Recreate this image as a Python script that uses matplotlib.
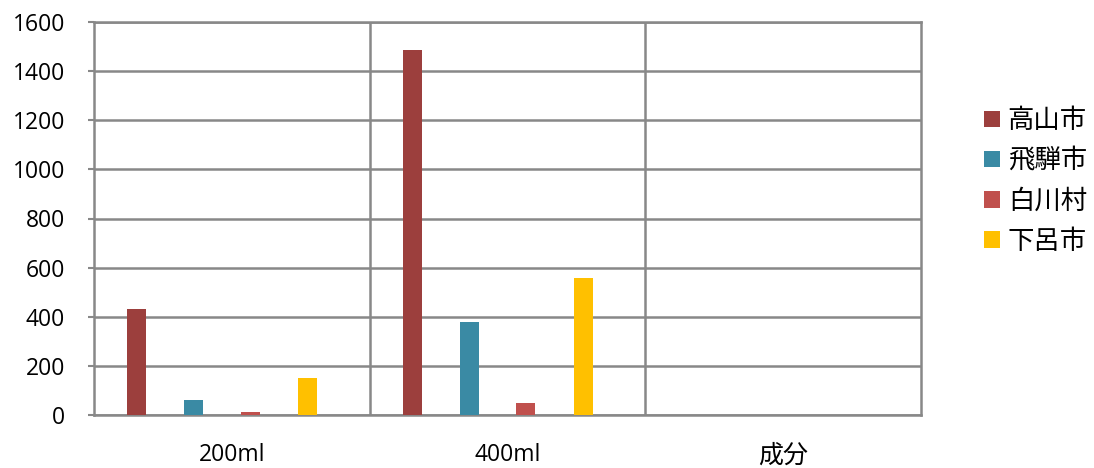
import numpy as np
import matplotlib
matplotlib.use("Agg")
import matplotlib.pyplot as plt

plt.rcParams['font.family'] = ['Open Sans', 'Noto Sans CJK JP', 'DejaVu Sans']

categories = ["200ml", "400ml", "成分"]
series_names = ["高山市", "飛騨市", "白川村", "下呂市"]
takayama = [431, 1486, 0]
hida = [61, 379, 0]
shirakawa = [12, 49, 0]
gero = [150, 558, 0]
colors = ["#9C3F3D", "#3A8AA4", "#C0504D", "#FFC000"]

values = [takayama, hida, shirakawa, gero]

fig = plt.figure(figsize=(10.94, 4.68), dpi=100)
ax = fig.add_axes([94 / 1094, 1 - 415 / 468, (921 - 94) / 1094, (415 - 22) / 468])

x = np.arange(len(categories))
width = 0.069
offsets = [-0.346, -0.139, 0.067, 0.274]

for vals, name, col, off in zip(values, series_names, colors, offsets):
    ax.bar(x + off, vals, width, color=col, label=name, zorder=3)

ax.set_xlim(-0.5, len(categories) - 0.5)
ax.set_ylim(0, 1600)
ax.set_yticks(np.arange(0, 1601, 200))
ax.yaxis.grid(True, color="#888888", linewidth=1.8, zorder=0)
for b in np.arange(0.5, len(categories) - 0.5, 1):
    ax.axvline(b, color="#888888", linewidth=1.8, zorder=0)

for s in ax.spines.values():
    s.set_color("#888888")
    s.set_linewidth(1.8)

ax.tick_params(axis="y", length=4, width=1.5, color="#888888", labelsize=16.5, pad=17)
ax.tick_params(axis="x", length=0, labelsize=16.5, pad=20)
ax.set_xticks(x)
ax.set_xticklabels(categories)
ax.get_xticklabels()[2].set_fontsize(18)
ax.get_xticklabels()[2].set_fontfamily(['Noto Sans CJK JP'])

leg = fig.legend(loc="center left", bbox_to_anchor=(984 / 1094, 1 - 181 / 468),
                 frameon=False, handlelength=0.6, handleheight=0.6,
                 labelspacing=0.5, handletextpad=0.3, borderpad=0, borderaxespad=0,
                 prop={'family': ['Noto Sans CJK JP'], 'size': 19})

plt.savefig("out.png", dpi=100)
